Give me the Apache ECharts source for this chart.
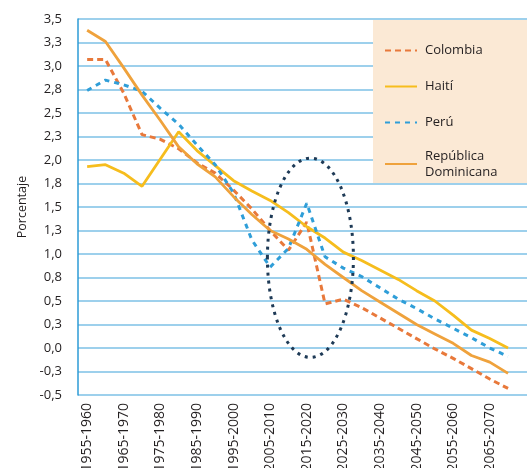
<!DOCTYPE html>
<html><head><meta charset="utf-8">
<script src="https://cdn.jsdelivr.net/npm/echarts@6/dist/echarts.min.js"></script>
<style>html,body{margin:0;padding:0;background:#fff}#c{width:527px;height:468px}</style>
</head><body><div id="c"></div>
<script>
const categories = ['1955-1960','1960-1965','1965-1970','1970-1975','1975-1980','1980-1985','1985-1990','1990-1995','1995-2000','2000-2005','2005-2010','2010-2015','2015-2020','2020-2025','2025-2030','2030-2035','2035-2040','2040-2045','2045-2050','2050-2055','2055-2060','2060-2065','2065-2070','2070-2075'];
const colombia = [3.07,3.07,2.71,2.27,2.22,2.12,1.97,1.86,1.68,1.48,1.25,1.04,1.34,0.47,0.52,0.43,0.32,0.21,0.10,-0.01,-0.11,-0.22,-0.33,-0.43];
const haiti    = [1.93,1.95,1.86,1.72,2.01,2.30,2.10,1.94,1.78,1.67,1.57,1.44,1.29,1.17,1.02,0.93,0.83,0.73,0.61,0.50,0.35,0.19,0.10,0.00];
const peru     = [2.74,2.85,2.80,2.73,2.55,2.38,2.16,1.95,1.65,1.15,0.86,1.06,1.54,0.97,0.85,0.76,0.64,0.52,0.42,0.31,0.21,0.11,0.00,-0.09];
const repDom   = [3.38,3.26,2.98,2.69,2.42,2.14,1.96,1.82,1.61,1.42,1.25,1.16,1.05,0.89,0.75,0.61,0.49,0.37,0.25,0.15,0.05,-0.08,-0.15,-0.27];
const seriesNames = ['Colombia','Haití','Perú','República Dominicana'];
const yTickValues = [-0.5,-0.25,0,0.25,0.5,0.75,1,1.25,1.5,1.75,2,2.25,2.5,2.75,3,3.25,3.5];
const yTickLabels = ['-0,5','-0,3','0,0','0,3','0,5','0,8','1,0','1,3','1,5','1,8','2,0','2,3','2,5','2,8','3,0','3,3','3,5'];
// annotation ellipse (in data units): centre category index + offset, value, radii
const ellipseAnno = {catIndex: 12, catOffset: 0.2, value: 0.96, rxBands: 2.35, ryValue: 1.06};

const FONT = 'Open Sans';
const TXT = '#231f20';
const chart = echarts.init(document.getElementById('c'), null, {renderer:'canvas'});
const yLabel = v => { const i = yTickValues.findIndex(t => Math.abs(t - v) < 1e-6); return i >= 0 ? yTickLabels[i] : ''; };

const option = {
  animation: false,
  backgroundColor: '#ffffff',
  grid: [
    {left: 78, top: 19, width: 439.2, height: 376, outerBoundsMode: 'none', containLabel: false},
    {left: 78, top: 19, right: 0, height: 376, outerBoundsMode: 'none', containLabel: false}
  ],
  xAxis: [
    {type:'category', gridIndex:0, data: categories, boundaryGap:true,
     axisLine:{show:false}, axisTick:{show:false}, splitLine:{show:false},
     axisLabel:{interval:1, rotate:90, margin:8, fontSize:14, fontFamily:FONT, color:TXT}},
    {type:'value', gridIndex:1, show:false, min:0, max:1}
  ],
  yAxis: [
    {type:'value', gridIndex:0, min:-0.5, max:3.5, interval:0.25,
     name:'Porcentaje', nameLocation:'middle', nameGap:48,
     nameTextStyle:{fontSize:12.5, fontFamily:FONT, color:TXT},
     axisLine:{show:true, lineStyle:{color:'#2d9bd6', width:1.5}},
     axisTick:{show:false}, splitLine:{show:false},
     axisLabel:{formatter: yLabel, margin:16, fontSize:13, fontFamily:FONT, color:TXT}},
    {type:'value', gridIndex:1, min:-0.5, max:3.5, interval:0.25,
     axisLine:{show:false}, axisTick:{show:false}, axisLabel:{show:false},
     splitLine:{show:true, lineStyle:{color:'#7cc0e6', width:1.6}}}
  ],
  legend: [
    {data: seriesNames.slice(0,3), orient:'vertical', left:384, top:43.5, z:10,
     itemWidth:32, itemHeight:14, itemGap:22, padding:0, itemStyle:{opacity:0},
     textStyle:{fontSize:13, fontFamily:FONT, color:TXT, lineHeight:14, padding:[0,0,0,3]}},
    {data: [seriesNames[3]], orient:'vertical', left:384, top:140, z:10,
     itemWidth:32, itemHeight:14, padding:0, itemStyle:{opacity:0},
     formatter: () => 'República\nDominicana',
     textStyle:{fontSize:13, fontFamily:FONT, color:TXT, lineHeight:16, padding:[16,0,0,3]}}
  ],
  graphic: {elements: [
    {id:'legendBg', type:'rect', left:373, top:20, z:5, shape:{width:160, height:163}, style:{fill:'#fbe9d5'}}
  ]},
  series: [
    {name:seriesNames[0], type:'line', data:colombia, symbol:'none', xAxisIndex:0, yAxisIndex:0,
     lineStyle:{color:'#e8793b', width:3, type:[6,4]}, itemStyle:{color:'#e8793b'}},
    {name:seriesNames[1], type:'line', data:haiti, symbol:'none', xAxisIndex:0, yAxisIndex:0,
     lineStyle:{color:'#f6bd1d', width:2.8}, itemStyle:{color:'#f6bd1d'}},
    {name:seriesNames[2], type:'line', data:peru, symbol:'none', xAxisIndex:0, yAxisIndex:0,
     lineStyle:{color:'#2f9ed8', width:3, type:[5,5]}, itemStyle:{color:'#2f9ed8'}},
    {name:seriesNames[3], type:'line', data:repDom, symbol:'none', xAxisIndex:0, yAxisIndex:0,
     lineStyle:{color:'#efa23c', width:2.8}, itemStyle:{color:'#efa23c'}}
  ]
};
chart.setOption(option);

// annotation ellipse located through the axes
const pA = chart.convertToPixel({xAxisIndex:0, yAxisIndex:0}, [ellipseAnno.catIndex, ellipseAnno.value]);
const pB = chart.convertToPixel({xAxisIndex:0, yAxisIndex:0}, [ellipseAnno.catIndex + 1, ellipseAnno.value + ellipseAnno.ryValue]);
const band = pB[0] - pA[0];
const cx = pA[0] + band * ellipseAnno.catOffset;
const cy = pA[1];
const ry = pA[1] - pB[1];
const rx = band * ellipseAnno.rxBands;
chart.setOption({graphic: {elements: [
  {id:'ellipse', type:'ellipse', z:6, shape:{cx:cx, cy:cy, rx:rx, ry:ry},
   style:{fill:'none', stroke:'#1e3a56', lineWidth:3, lineDash:[3,5]}}
]}});
</script>
</body></html>
